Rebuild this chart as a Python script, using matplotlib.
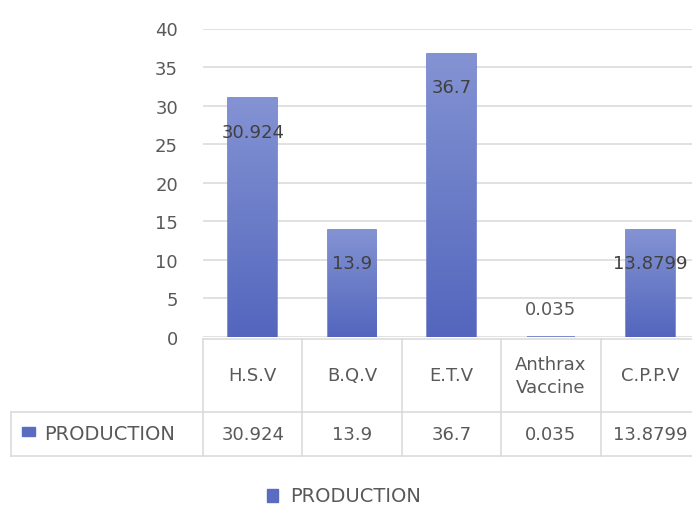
import numpy as np
import matplotlib
matplotlib.use("Agg")
import matplotlib.pyplot as plt
from matplotlib.colors import LinearSegmentedColormap
import matplotlib.transforms as mtransforms

categories = ["H.S.V", "B.Q.V", "E.T.V", "Anthrax\nVaccine", "C.P.P.V"]
production = [30.924, 13.9, 36.7, 0.035, 13.8799]
value_text = ["30.924", "13.9", "36.7", "0.035", "13.8799"]
series_name = "PRODUCTION"
y_ticks = [0, 5, 10, 15, 20, 25, 30, 35, 40]

W, H = 692, 506
DPI = 100
GRAY = "#595959"
DARK = "#404040"
GRID = "#d9d9d9"
BAR_TOP = "#8493d3"
BAR_BOTTOM = "#5366bd"
BAR_EDGE = "#6c7dc8"
KEY = "#5a6cc0"
FS = 13

plt.rcParams["font.family"] = ["DejaVu Sans"]

fig = plt.figure(figsize=(W / DPI, H / DPI), dpi=DPI)


def fx(px):
    return px / W


def fy(py):
    return 1 - py / H


# plot area: x 203..700 px, y 29.5..338 px
ax = fig.add_axes([fx(203), fy(338), fx(700 - 203), (338 - 29.5) / H])
ax.set_xticks([])
ax.tick_params(axis="y", length=0, pad=18, labelsize=FS, labelcolor=GRAY)
for s in ax.spines.values():
    s.set_visible(False)
ax.grid(axis="y", color=GRID, linewidth=1.1)
ax.set_axisbelow(True)

x = np.arange(len(categories))
bars = ax.bar(x, production, width=0.49, color=BAR_BOTTOM,
              edgecolor=BAR_EDGE, linewidth=1.2, zorder=2)

# vertical gradient fill for each bar
cmap = LinearSegmentedColormap.from_list("barfill", [BAR_BOTTOM, BAR_TOP])
grad = np.linspace(0, 1, 256).reshape(-1, 1)
for b in bars:
    x0, w, h = b.get_x(), b.get_width(), b.get_height()
    im = ax.imshow(grad, cmap=cmap, origin="lower", aspect="auto",
                   extent=[x0, x0 + w, 0, h], zorder=2.5)
    im.set_clip_path(b)
ax.set_xlim(-0.5, len(categories) - 0.5)
ax.set_ylim(0, 40)
ax.set_yticks(y_ticks)

# data labels: inside end for tall bars, above for tiny ones
for xi, v, t in zip(x, production, value_text):
    if v > 5:
        ax.annotate(t, (xi, v), xytext=(0, -24), textcoords="offset points",
                    ha="center", va="center", fontsize=FS, color=DARK, zorder=4)
    else:
        ax.annotate(t, (xi, v), xytext=(0, 20), textcoords="offset points",
                    ha="center", va="center", fontsize=FS, color=GRAY, zorder=4)

# data table below the plot area
trans = mtransforms.blended_transform_factory(ax.transData, fig.transFigure)
ftrans = fig.transFigure
x_left = -0.5
y_head_top, y_head_bot, y_row_bot = fy(340), fy(413), fy(457)

line_kw = dict(color=GRID, linewidth=1.1, clip_on=False)
fig.add_artist(plt.Line2D([fx(203), fx(700)], [y_head_top, y_head_top], **line_kw))
fig.add_artist(plt.Line2D([fx(11), fx(700)], [y_head_bot, y_head_bot], **line_kw))
fig.add_artist(plt.Line2D([fx(11), fx(700)], [y_row_bot, y_row_bot], **line_kw))
fig.add_artist(plt.Line2D([fx(11), fx(11)], [y_head_bot, y_row_bot], **line_kw))
for k in range(len(categories)):
    xb = x_left + k
    fig.add_artist(plt.Line2D([xb, xb], [y_head_top, y_row_bot],
                              transform=trans, **line_kw))

for xi, cat, t in zip(x, categories, value_text):
    fig.text(xi, (y_head_top + y_head_bot) / 2, cat, transform=trans,
             ha="center", va="center", fontsize=FS, color=GRAY,
             linespacing=1.35)
    fig.text(xi, (y_head_bot + y_row_bot) / 2, t, transform=trans,
             ha="center", va="center", fontsize=FS, color=GRAY)

# row header with legend key
fig.add_artist(plt.Rectangle((fx(22), fy(437)), fx(13), 9 / H, color=KEY,
                             transform=ftrans))
fig.text(fx(44), (y_head_bot + y_row_bot) / 2, series_name, ha="left",
         va="center", fontsize=FS + 1, color=GRAY)

# legend at the bottom
fig.add_artist(plt.Rectangle((fx(267), fy(503)), fx(11), 13 / H, color=KEY,
                             transform=ftrans))
fig.text(fx(290), fy(497), series_name, ha="left", va="center",
         fontsize=FS + 1, color=GRAY)

# chart title, sitting at the very top edge of the canvas
fig.text(fx(355), fy(-0.5), series_name, ha="center", va="baseline",
         fontsize=21, color="#9a9a9a")

fig.savefig("out.png", dpi=DPI)
